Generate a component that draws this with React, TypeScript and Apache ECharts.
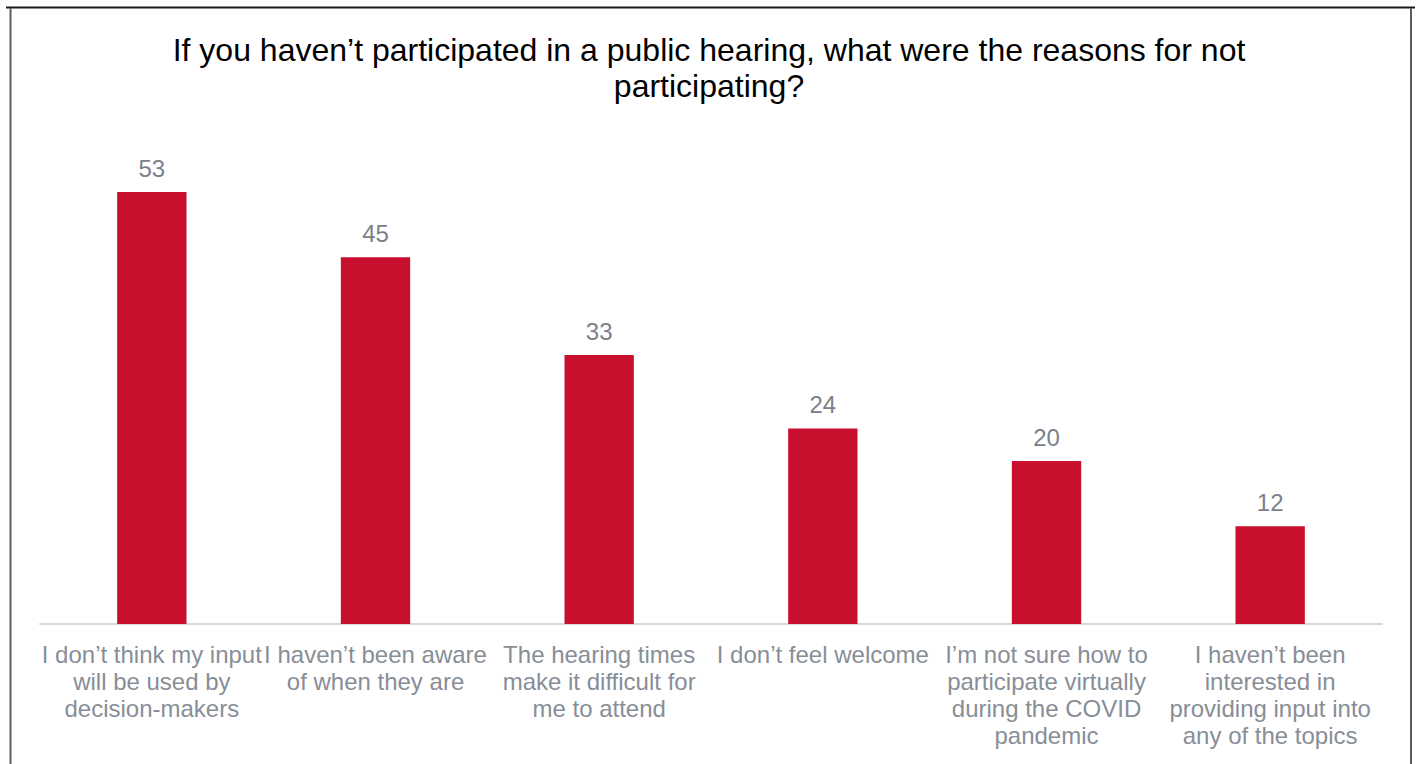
import React, { useEffect, useRef } from "react";
import * as echarts from "echarts";

const titleText = "If you haven’t participated in a public hearing, what were the reasons for not\nparticipating?";
const categories = [
  "I don’t think my input\nwill be used by\ndecision-makers",
  "I haven’t been aware\nof when they are",
  "The hearing times\nmake it difficult for\nme to attend",
  "I don’t feel welcome",
  "I’m not sure how to\nparticipate virtually\nduring the COVID\npandemic",
  "I haven’t been\ninterested in\nproviding input into\nany of the topics",
];
const values = [53, 45, 33, 24, 20, 12];

const FONT = "Liberation Sans, Arial, sans-serif";

export default function App() {
  const ref = useRef<HTMLDivElement>(null);
  useEffect(() => {
    if (!ref.current) return;
    const chart = echarts.init(ref.current, null, { renderer: "svg" });
    chart.setOption({
      animation: false,
      backgroundColor: "#ffffff",
      title: {
        text: titleText,
        left: "center",
        top: 27,
        textStyle: {
          fontFamily: FONT,
          fontSize: 32,
          fontWeight: "normal",
          color: "#000000",
          lineHeight: 36,
        },
      },
      grid: { left: 40, right: 36, top: 135, bottom: 140, containLabel: false },
      xAxis: {
        type: "category",
        data: categories,
        axisLine: { show: true, lineStyle: { color: "#d9d9d9", width: 2 } },
        axisTick: { show: false },
        axisLabel: {
          interval: 0,
          color: "#878e97",
          fontSize: 24,
          lineHeight: 27,
          margin: 16.5,
          fontFamily: FONT,
          align: "center",
        },
      },
      yAxis: {
        type: "value",
        min: 0,
        max: 60,
        show: false,
        splitLine: { show: false },
      },
      graphic: [
        { type: "line", shape: { x1: 6, y1: 7.5, x2: 1415, y2: 7.5 }, style: { stroke: "#1a1a1a", lineWidth: 2 } },
        { type: "line", shape: { x1: 10.5, y1: 8, x2: 10.5, y2: 764 }, style: { stroke: "#5a5d63", lineWidth: 2 } },
        { type: "line", shape: { x1: 1411, y1: 8, x2: 1411, y2: 764 }, style: { stroke: "#5a5d63", lineWidth: 2 } },
      ],
      series: [
        {
          type: "bar",
          data: values,
          barWidth: "31%",
          itemStyle: { color: "#c8102e" },
          label: {
            show: true,
            position: "top",
            distance: 12,
            color: "#7a818b",
            fontSize: 24,
            fontFamily: FONT,
          },
        },
      ],
    });
    return () => chart.dispose();
  }, []);
  return (
    <div
      ref={ref}
      style={{ position: "fixed", left: 0, top: 0, width: 1418, height: 764 }}
    />
  );
}
